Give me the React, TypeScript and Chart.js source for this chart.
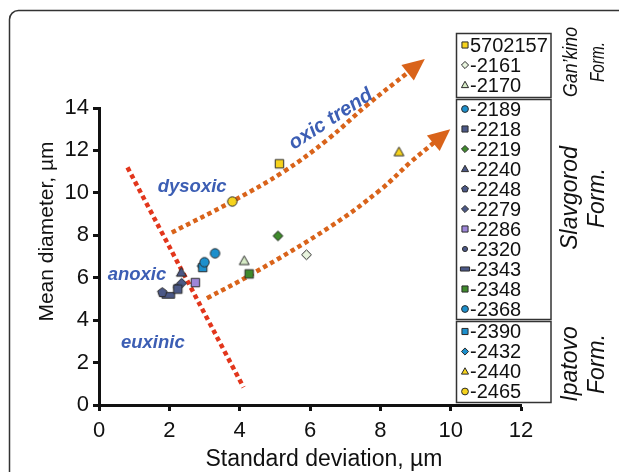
import React, { useEffect, useRef } from 'react';
import { Chart, registerables } from 'chart.js';

Chart.register(...registerables);

// ---------------- data ----------------
const sampleLabels = ['5702157', '-2161', '-2170', '-2189', '-2218', '-2219', '-2240', '-2248', '-2279', '-2286', '-2320', '-2343', '-2348', '-2368', '-2390', '-2432', '-2440', '-2465'];
const stdDev = [5.13, 5.90, 4.13, 3.30, 2.24, 5.09, 2.34, 1.80, 2.35, 2.74, 2.22, 1.97, 4.27, 3.00, 2.95, 2.93, 8.53, 3.79];
const meanDiam = [11.37, 7.08, 6.79, 7.15, 5.46, 7.97, 6.24, 5.30, 5.74, 5.77, 5.55, 5.17, 6.18, 6.73, 6.48, 6.55, 11.92, 9.59];

const formationNames = [['Gan\u2019kino', 'Form.'], ['Slavgorod', 'Form.'], ['Ipatovo', 'Form.']];
const formationCounts = [3, 11, 4];

const upperTrendX = [2.07, 3.78, 5.25, 6.49, 7.63, 8.82];
const upperTrendY = [8.13, 9.59, 11.0, 12.5, 14.15, 15.72];
const lowerTrendX = [3.07, 4.39, 6.58, 8.0, 8.86, 9.55];
const lowerTrendY = [5.03, 6.21, 8.41, 10.14, 11.45, 12.4];
const redLineX = [0.81, 4.11];
const redLineY = [11.2, 0.83];

const xTickValues = [0, 2, 4, 6, 8, 10, 12];
const yTickValues = [0, 2, 4, 6, 8, 10, 12, 14];

const zoneLabels = ['dysoxic', 'anoxic', 'euxinic', 'oxic trend'];
const zoneLabelX = [2.65, 1.08, 1.53, 6.68];
const zoneLabelY = [10.06, 5.90, 2.69, 13.25];

const xTitle = 'Standard deviation, \u00b5m';
const yTitle = 'Mean diameter, \u00b5m';

// ---------------- styles ----------------
const YEL = '#f6d31c';
const PALE = '#e8f4de';
const PALE2 = '#d6ebc6';
const BLUE = '#1c8fcc';
const SLATE = '#4b5886';
const GREEN = '#3f8a2c';
const PURPLE = '#9d86d8';
const ORANGE = '#d9631a';
const RED = '#e2361c';
const TEXTBLUE = '#3c5eb4';
const FONT = '"Liberation Sans", Arial, Helvetica, sans-serif';

const markerShapes = ['square', 'diamond', 'triangle', 'circle', 'square', 'diamond', 'triangle', 'pentagon', 'diamond', 'square', 'circle', 'wide', 'square', 'circle', 'square', 'diamond', 'triangle', 'circle'];
const markerFills = [YEL, PALE, PALE2, BLUE, SLATE, GREEN, SLATE, SLATE, SLATE, PURPLE, SLATE, SLATE, GREEN, BLUE, BLUE, BLUE, YEL, YEL];
const markerScale = [1, 1, 1, 1, 1, 1, 1, 1, 1, 1, 0.75, 1, 1, 1, 1, 1, 1, 1];

function drawShape(ctx: CanvasRenderingContext2D, shape: string, cx: number, cy: number, r: number, fill: string) {
  ctx.beginPath();
  if (shape === 'circle') {
    ctx.arc(cx, cy, r, 0, Math.PI * 2);
  } else if (shape === 'square') {
    const s = r * 0.9;
    ctx.rect(cx - s, cy - s, 2 * s, 2 * s);
  } else if (shape === 'diamond') {
    const s = r * 1.05;
    ctx.moveTo(cx, cy - s);
    ctx.lineTo(cx + s, cy);
    ctx.lineTo(cx, cy + s);
    ctx.lineTo(cx - s, cy);
    ctx.closePath();
  } else if (shape === 'triangle') {
    const s = r * 1.1;
    ctx.moveTo(cx, cy - s);
    ctx.lineTo(cx + s * 0.95, cy + s * 0.7);
    ctx.lineTo(cx - s * 0.95, cy + s * 0.7);
    ctx.closePath();
  } else if (shape === 'pentagon') {
    const s = r * 1.05;
    for (let k = 0; k < 5; k++) {
      const a = -Math.PI / 2 + (k * 2 * Math.PI) / 5;
      const px = cx + s * Math.cos(a);
      const py = cy + s * Math.sin(a);
      if (k === 0) ctx.moveTo(px, py); else ctx.lineTo(px, py);
    }
    ctx.closePath();
  } else if (shape === 'wide') {
    ctx.rect(cx - r * 1.35, cy - r * 0.6, r * 2.7, r * 1.2);
  }
  ctx.fillStyle = fill;
  ctx.fill();
  ctx.lineWidth = 1;
  ctx.strokeStyle = '#2a2a2a';
  ctx.stroke();
}

function makeMarker(shape: string, fill: string, r: number) {
  const size = Math.ceil(r * 3 + 4);
  const c = document.createElement('canvas');
  c.width = size;
  c.height = size;
  const ctx = c.getContext('2d')!;
  drawShape(ctx, shape, size / 2, size / 2, r, fill);
  return c;
}

const overlayPlugin = {
  id: 'overlay',
  afterDatasetsDraw(chart: any) {
    const ctx = chart.ctx as CanvasRenderingContext2D;
    chart.data.datasets.forEach((ds: any, i: number) => {
      if (!ds.arrowHead) return;
      const pts = chart.getDatasetMeta(i).data;
      const last = pts[pts.length - 1];
      const prev = pts[pts.length - 2];
      let dx = last.x - (last.cp1x !== undefined ? last.cp1x : prev.x);
      let dy = last.y - (last.cp1y !== undefined ? last.cp1y : prev.y);
      const len = Math.hypot(dx, dy) || 1;
      dx /= len; dy /= len;
      const nx = -dy, ny = dx;
      const L = 20, W = 10;
      const bx = last.x - dx * 2, by = last.y - dy * 2;
      ctx.save();
      ctx.fillStyle = ds.borderColor;
      ctx.beginPath();
      ctx.moveTo(last.x + dx * L, last.y + dy * L);
      ctx.lineTo(bx + nx * W, by + ny * W);
      ctx.lineTo(bx - nx * W, by - ny * W);
      ctx.closePath();
      ctx.fill();
      ctx.restore();
    });
  },
  afterDraw(chart: any) {
    const ctx = chart.ctx as CanvasRenderingContext2D;
    const xs = chart.scales.x, ys = chart.scales.y;
    ctx.save();

    // frame
    ctx.strokeStyle = '#333';
    ctx.lineWidth = 1.5;
    const fr = 9;
    ctx.beginPath();
    ctx.moveTo(9.5, 500);
    ctx.lineTo(9.5, 10.5 + fr);
    ctx.arcTo(9.5, 10.5, 9.5 + fr, 10.5, fr);
    ctx.lineTo(650, 10.5);
    ctx.stroke();

    // axis titles
    ctx.fillStyle = '#111';
    ctx.font = `23px ${FONT}`;
    ctx.textAlign = 'center';
    ctx.textBaseline = 'alphabetic';
    ctx.fillText(xTitle, 324, 466);
    ctx.save();
    ctx.translate(53, 231.5);
    ctx.rotate(-Math.PI / 2);
    ctx.font = `21px ${FONT}`;
    ctx.fillText(yTitle, 0, 0);
    ctx.restore();

    // zone labels
    ctx.fillStyle = TEXTBLUE;
    zoneLabels.forEach((t, i) => {
      const px = xs.getPixelForValue(zoneLabelX[i]);
      const py = ys.getPixelForValue(zoneLabelY[i]);
      ctx.save();
      ctx.translate(px, py);
      if (t === 'oxic trend') {
        ctx.rotate((-33 * Math.PI) / 180);
        ctx.font = `italic bold 20px ${FONT}`;
      } else {
        ctx.font = `italic bold 18.5px ${FONT}`;
      }
      ctx.textAlign = 'center';
      ctx.textBaseline = 'alphabetic';
      ctx.fillText(t, 0, 0);
      ctx.restore();
    });

    // legend boxes
    const boxTop = [33, 99, 321];
    const boxBottom = [97, 319, 402];
    const boxLeft = 456.5, boxRight = 551;
    const groupCenterY = [62, 198, 364];
    const groupFont = [21, 23, 23];
    const groupMaxW = [[70, 40], [null, null], [null, null]];
    let idx = 0;
    formationCounts.forEach((n, g) => {
      ctx.strokeStyle = '#333';
      ctx.lineWidth = 1.5;
      ctx.strokeRect(boxLeft, boxTop[g] + 0.5, boxRight - boxLeft, boxBottom[g] - boxTop[g]);
      const cy = (boxTop[g] + boxBottom[g]) / 2;
      for (let k = 0; k < n; k++) {
        const ry = cy + (k - (n - 1) / 2) * 20;
        drawShape(ctx, markerShapes[idx], 465, ry, 3.4 * markerScale[idx], markerFills[idx]);
        ctx.fillStyle = '#111';
        ctx.font = `20px ${FONT}`;
        ctx.textAlign = 'left';
        ctx.textBaseline = 'middle';
        ctx.fillText(sampleLabels[idx], 470, ry + 1);
        idx++;
      }
      // rotated group label
      const lines = formationNames[g];
      const lx = [571, 598];
      lines.forEach((line, li) => {
        ctx.save();
        ctx.translate(lx[li], groupCenterY[g]);
        ctx.rotate(-Math.PI / 2);
        ctx.font = `italic ${groupFont[g]}px ${FONT}`;
        ctx.fillStyle = '#111';
        ctx.textAlign = 'center';
        ctx.textBaseline = 'middle';
        const mw = groupMaxW[g][li];
        if (mw) ctx.fillText(line, 0, 0, mw); else ctx.fillText(line, 0, 0);
        ctx.restore();
      });
    });

    ctx.restore();
  },
};

export default function App() {
  const ref = useRef<HTMLCanvasElement>(null);

  useEffect(() => {
    const canvas = ref.current!;
    const pointDatasets = sampleLabels.map((label, i) => ({
      type: 'scatter',
      label,
      data: [{ x: stdDev[i], y: meanDiam[i] }],
      pointStyle: makeMarker(markerShapes[i], markerFills[i], 4.7 * markerScale[i]),
      pointRadius: 5,
      pointHoverRadius: 5,
      order: 1,
    }));
    const lineDataset = (xv: number[], yv: number[], color: string, arrow: boolean) => ({
      type: 'line',
      data: xv.map((x, i) => ({ x, y: yv[i] })),
      borderColor: color,
      backgroundColor: color,
      borderWidth: 4.5,
      borderDash: [4.5, 3.5],
      borderCapStyle: 'butt',
      pointRadius: 0,
      pointHoverRadius: 0,
      tension: 0.4,
      clip: false,
      fill: false,
      order: 5,
      arrowHead: arrow,
    });

    const chart = new Chart(canvas, {
      type: 'scatter',
      data: {
        datasets: [
          ...pointDatasets,
          lineDataset(upperTrendX, upperTrendY, ORANGE, true),
          lineDataset(lowerTrendX, lowerTrendY, ORANGE, true),
          lineDataset(redLineX, redLineY, RED, false),
        ] as any,
      },
      options: {
        animation: false,
        responsive: false,
        events: [],
        layout: { padding: { left: 0, top: 108, right: 98, bottom: 0 } },
        plugins: { legend: { display: false }, tooltip: { enabled: false } },
        scales: {
          x: {
            type: 'linear',
            min: 0,
            max: 12,
            afterFit: (s: any) => { s.height = 67; },
            afterBuildTicks: (s: any) => { s.ticks = xTickValues.map((v) => ({ value: v })); },
            border: { display: true, color: '#111', width: 3 },
            grid: { drawOnChartArea: false, drawTicks: true, tickLength: 6, tickWidth: 3, tickColor: '#111' },
            ticks: { color: '#111', font: { family: FONT, size: 22 }, padding: 7, maxRotation: 0 },
          },
          y: {
            type: 'linear',
            min: 0,
            max: 14,
            afterFit: (s: any) => { s.width = 99; },
            afterBuildTicks: (s: any) => { s.ticks = yTickValues.map((v) => ({ value: v })); },
            border: { display: true, color: '#111', width: 3 },
            grid: { drawOnChartArea: false, drawTicks: true, tickLength: 6, tickWidth: 3, tickColor: '#111' },
            ticks: { color: '#111', font: { family: FONT, size: 22 }, padding: 4 },
          },
        },
      } as any,
      plugins: [overlayPlugin],
    });
    return () => chart.destroy();
  }, []);

  return (
    <div style={{ position: 'absolute', left: 0, top: 0, width: 619, height: 472, background: '#fff' }}>
      <canvas ref={ref} width={619} height={472} style={{ display: 'block' }} />
    </div>
  );
}
